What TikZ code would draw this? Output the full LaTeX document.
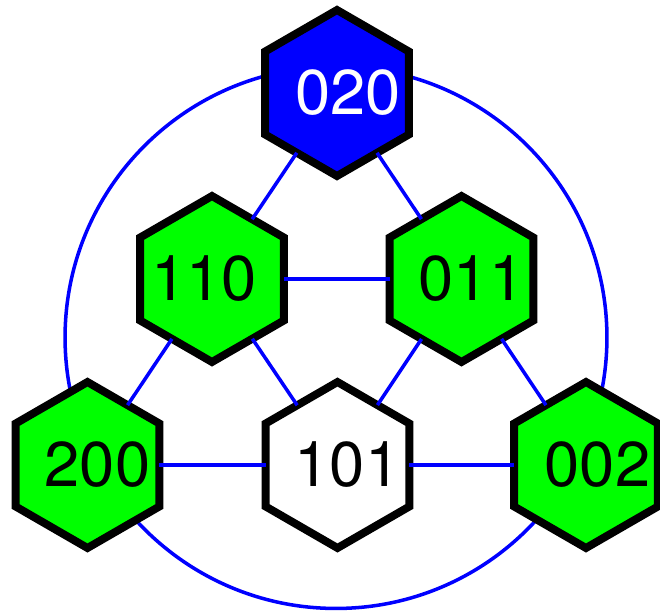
\documentclass[tikz,border=0pt]{standalone}
\usepackage{fontspec}
\setmainfont{TeX Gyre Heros}
\usetikzlibrary{shapes.geometric}

\begin{document}
\begin{tikzpicture}[x=0.02cm,y=-0.02cm,
        hexnode/.style={regular polygon,regular polygon sides=6,shape border rotate=30,
            minimum size=3.32cm,inner sep=0pt,outer sep=0pt,draw=black,line width=4.5pt},
        numlbl/.style={font=\fontsize{36}{40}\selectfont,inner sep=0pt},
        link/.style={draw=blue,line width=2pt}]
        \useasboundingbox (0,0) rectangle (660,613);
        % Outer ring
        \draw[link] (336,337.5) circle (5.42cm);
        % States
        \node[hexnode,fill=blue] (s020) at (337,93) {};
        \node[numlbl,text=white] (t020) at ([xshift=0.22cm]s020) {020};
        \node[hexnode,fill=green] (s110) at (212,279) {};
        \node[numlbl] (t110) at ([xshift=-0.16cm]s110) {110};
        \node[hexnode,fill=green] (s011) at (461.5,279) {};
        \node[numlbl] (t011) at ([xshift=0.2cm]s011) {011};
        \node[hexnode,fill=green] (s200) at (87.5,465) {};
        \node[numlbl] (t200) at ([xshift=0.2cm]s200) {200};
        \node[hexnode,fill=white] (s101) at (337.5,465) {};
        \node[numlbl] (t101) at ([xshift=0.2cm]s101) {101};
        \node[hexnode,fill=green] (s002) at (586,465) {};
        \node[numlbl] (t002) at ([xshift=0.23cm]s002) {002};
        % Edges
        \draw[link] (s020) -- (s110);
        \draw[link] (s020) -- (s011);
        \draw[link] (s110) -- (s011);
        \draw[link] (s110) -- (s200);
        \draw[link] (s110) -- (s101);
        \draw[link] (s011) -- (s101);
        \draw[link] (s011) -- (s002);
        \draw[link] (s200) -- (s101);
        \draw[link] (s101) -- (s002);
    \end{tikzpicture}
\end{document}
